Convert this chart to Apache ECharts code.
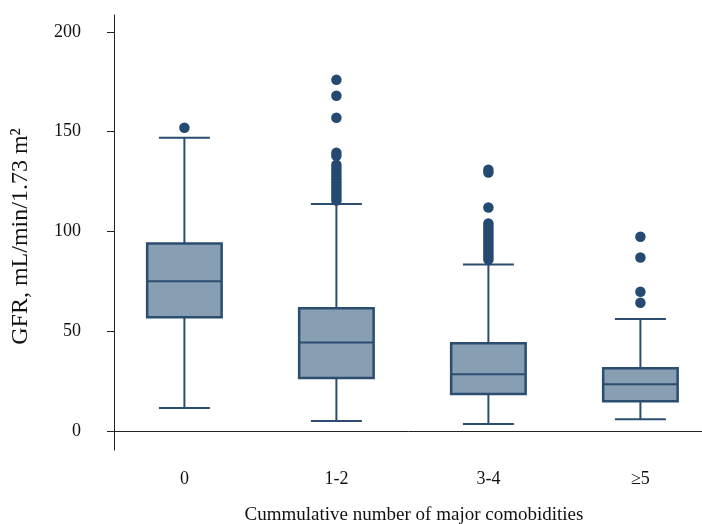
<!DOCTYPE html>
<html><head><meta charset="utf-8">
<script src="https://cdn.jsdelivr.net/npm/echarts@6/dist/echarts.min.js"></script>
<style>html,body{margin:0;padding:0;background:#fff}#c{width:702px;height:524px}</style>
</head><body><div id="c"></div>
<script>
const categories = ['0', '1-2', '3-4', '\u22655'];
// [lower whisker, Q1, median, Q3, upper whisker]
const boxLow = [11.5, 5.0, 3.5, 5.9];
const boxQ1 = [57.0, 26.6, 18.5, 14.9];
const boxMedian = [75.0, 44.3, 28.4, 23.4];
const boxQ3 = [94.0, 61.5, 44.0, 31.4];
const boxHigh = [147.0, 113.8, 83.5, 56.1];
const outliers0 = [152];
const outliers12 = [176, 168, 157, 139.5, 138, 133.5, 132, 130.5, 129, 127.5, 126, 124.5, 123, 121.5, 120, 118.5, 117, 115.5];
const outliers34 = [131, 129.5, 112, 104, 102.5, 101, 99.5, 98, 96.5, 95, 93.5, 92, 90.5, 89, 87.5, 86];
const outliers5 = [97.4, 87, 69.8, 64.3];
const yTicks = [0, 50, 100, 150, 200];
const yMin = -9.52, yMax = 208.5;

const outlierGroups = [outliers0, outliers12, outliers34, outliers5];
const boxData = categories.map((c, i) => [i, boxLow[i], boxQ1[i], boxMedian[i], boxQ3[i], boxHigh[i]]);
const outlierData = [];
outlierGroups.forEach((g, i) => g.forEach(v => outlierData.push([i, v])));

const STROKE = '#2b4d70', FILL = '#879eb3', DOT = '#254a71';
const FONT = 'Liberation Serif';

function renderBox(params, api) {
  const idx = api.value(0);
  const band = api.size([1, 0])[0];
  const boxW = band * 0.49, capW = band * 0.335;
  const pLow = api.coord([idx, api.value(1)]);
  const pQ1 = api.coord([idx, api.value(2)]);
  const pMed = api.coord([idx, api.value(3)]);
  const pQ3 = api.coord([idx, api.value(4)]);
  const pHigh = api.coord([idx, api.value(5)]);
  const x = pMed[0];
  const ls = {stroke: STROKE, lineWidth: 2};
  return {
    type: 'group',
    children: [
      {type: 'line', shape: {x1: x, y1: pQ3[1], x2: x, y2: pHigh[1]}, style: ls},
      {type: 'line', shape: {x1: x, y1: pQ1[1], x2: x, y2: pLow[1]}, style: ls},
      {type: 'line', shape: {x1: x - capW / 2, y1: pHigh[1], x2: x + capW / 2, y2: pHigh[1]}, style: ls},
      {type: 'line', shape: {x1: x - capW / 2, y1: pLow[1], x2: x + capW / 2, y2: pLow[1]}, style: ls},
      {type: 'rect', shape: {x: x - boxW / 2, y: pQ3[1], width: boxW, height: pQ1[1] - pQ3[1]},
        style: {fill: FILL, stroke: STROKE, lineWidth: 2.5}},
      {type: 'line', shape: {x1: x - boxW / 2, y1: pMed[1], x2: x + boxW / 2, y2: pMed[1]}, style: ls}
    ]
  };
}

const chart = echarts.init(document.getElementById('c'), null, {renderer: 'canvas'});
chart.setOption({
  animation: false,
  backgroundColor: '#fff',
  grid: [
    {left: 108.4, top: 15, width: 608, height: 435, outerBoundsMode: 'none', containLabel: false},
    {left: 114, top: 15, width: 600, height: 435, outerBoundsMode: 'none', containLabel: false}
  ],
  xAxis: [
    {gridIndex: 0, type: 'category', data: categories, boundaryGap: true,
      axisLine: {show: false}, axisTick: {show: false}, splitLine: {show: false},
      axisLabel: {margin: 20, color: '#111', fontFamily: FONT, fontSize: 18}},
    {gridIndex: 1, type: 'value', min: 0, max: 1,
      axisLine: {show: true, lineStyle: {color: '#222', width: 1}}, axisTick: {show: false},
      axisLabel: {show: false}, splitLine: {show: false},
      name: 'Cummulative number of major comobidities', nameLocation: 'middle', nameGap: 56,
      nameTextStyle: {color: '#111', fontFamily: FONT, fontSize: 19}}
  ],
  yAxis: [
    {gridIndex: 0, type: 'value', min: yMin, max: yMax, show: false, splitLine: {show: false}},
    {gridIndex: 1, type: 'value', min: yMin, max: yMax,
      axisLine: {show: true, lineStyle: {color: '#222', width: 1}},
      axisTick: {show: true, inside: false, length: 7, customValues: yTicks, lineStyle: {color: '#222'}},
      axisLabel: {customValues: yTicks, margin: 33, color: '#111', fontFamily: FONT, fontSize: 18},
      splitLine: {show: false},
      name: 'GFR, mL/min/1.73 m\u00b2', nameLocation: 'middle', nameGap: 81, nameRotate: 90,
      nameTextStyle: {color: '#111', fontFamily: FONT, fontSize: 24, padding: [0, 8, 0, 0]}}
  ],
  series: [
    {type: 'custom', xAxisIndex: 0, yAxisIndex: 0, data: boxData, renderItem: renderBox,
      encode: {x: 0, y: [1, 2, 3, 4, 5]}, z: 2},
    {type: 'scatter', xAxisIndex: 0, yAxisIndex: 0, data: outlierData, symbol: 'circle',
      symbolSize: 10.5, itemStyle: {color: DOT, opacity: 1}, z: 3}
  ]
});
</script></body></html>
